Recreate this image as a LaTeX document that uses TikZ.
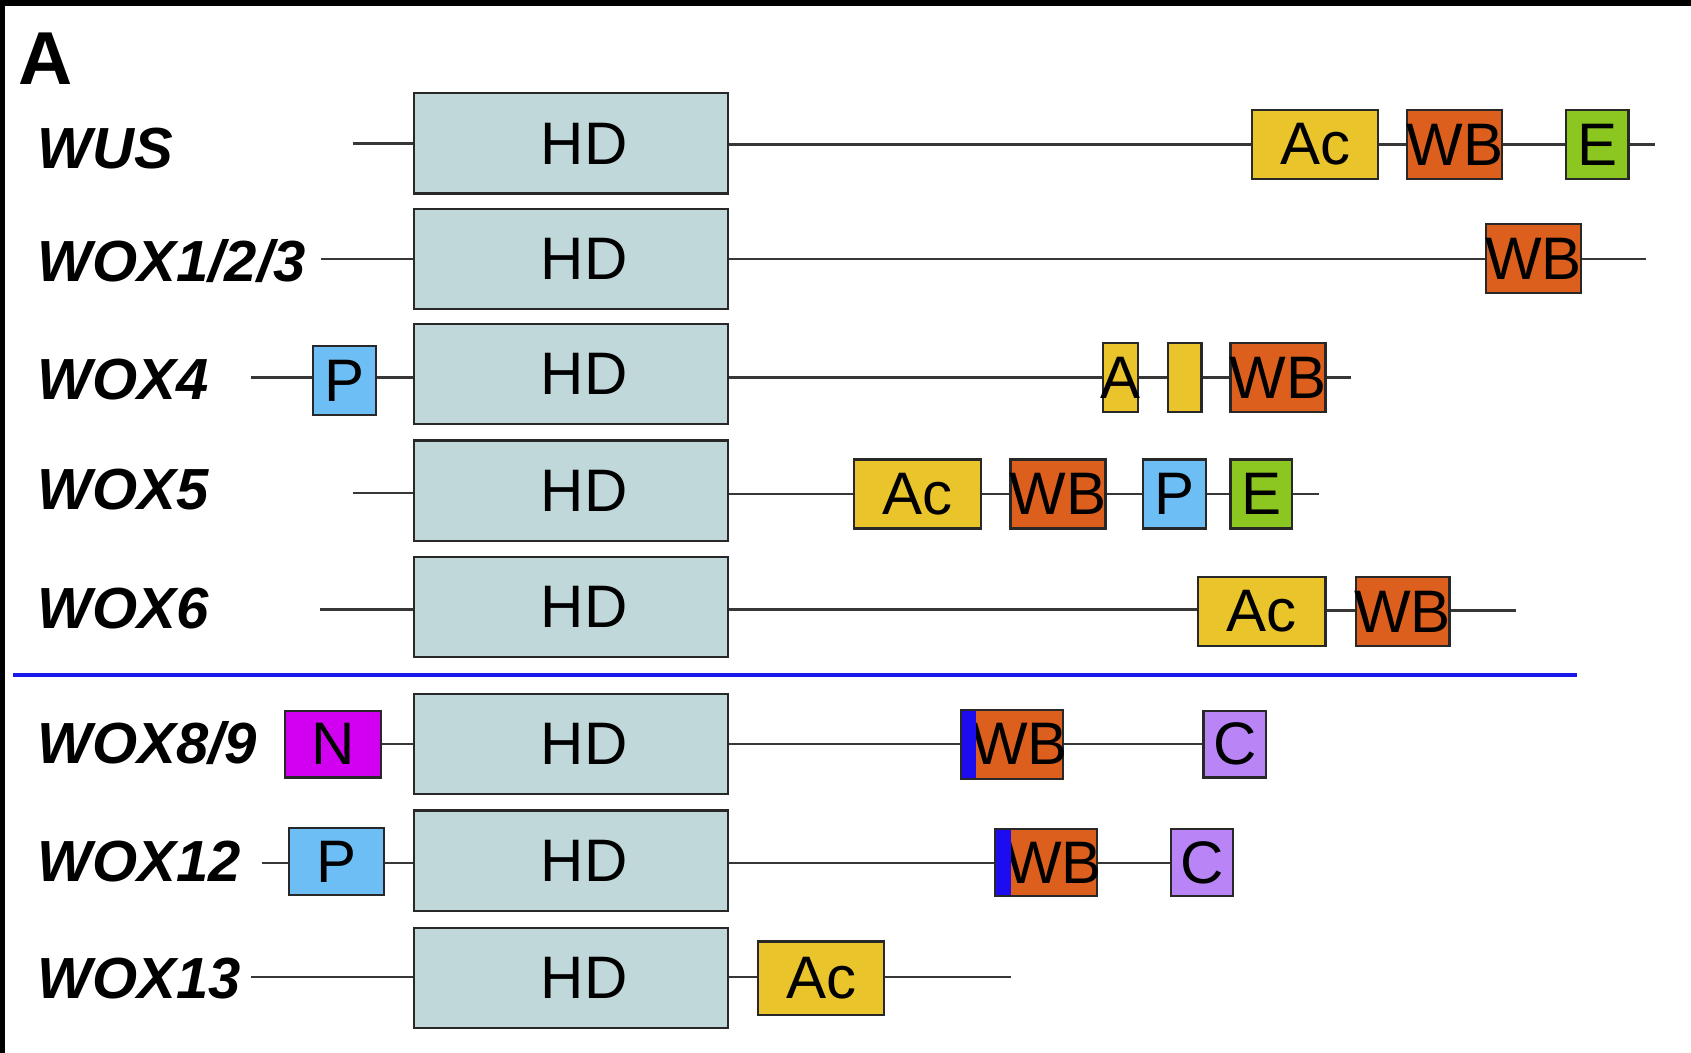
\documentclass[tikz,border=0pt]{standalone}
\usepackage{fontspec}
\setmainfont{Liberation Sans}
\usetikzlibrary{fit}
\definecolor{hdfill}{RGB}{192,216,218}
\definecolor{acc}{RGB}{233,196,42}
\definecolor{wbc}{RGB}{220,95,30}
\definecolor{ec}{RGB}{140,198,32}
\definecolor{pc}{RGB}{108,190,245}
\definecolor{nc}{RGB}{210,0,240}
\definecolor{cc}{RGB}{185,132,245}
\definecolor{stripc}{RGB}{30,12,240}
\definecolor{sepc}{RGB}{25,25,235}
\definecolor{boxline}{RGB}{40,40,40}
\definecolor{linec}{RGB}{55,55,55}
\newcommand\dbox[8][0]{\node[dom,fill=#3,fit={(#4,#6-#7/2)(#5,#6+#7/2)},label={[boxtxt,xshift=#1pt]center:#8}] (#2) {};}
\begin{document}
\begin{tikzpicture}[x=1.0784pt,y=-1.0784pt,
  dom/.style={draw=boxline,line width=2.2pt,inner sep=0pt},
  boxtxt/.style={inner sep=0pt,font=\fontsize{60}{62}\selectfont},
  conn/.style={draw=linec,line width=2.4pt},
  lbl/.style={anchor=base west,inner sep=0pt,font=\bfseries\itshape\fontsize{58}{60}\selectfont},
  stripbox/.style={fill=stripc,draw=none,inner sep=0pt}]
\useasboundingbox (0,0) rectangle (1568,976);
\fill[white] (0,0) rectangle (1568,976);
\fill[black] (0,0) rectangle (1568,5.5);
\fill[black] (0,0) rectangle (4.5,976);
\node[anchor=base west,inner sep=0pt,font=\bfseries\fontsize{75}{75}\selectfont] (panelA) at (17,78) {A};
% labels
\node[lbl] (l1) at (35,156) {WUS};
\node[lbl] (l2) at (35,261) {WOX1/2/3};
\node[lbl] (l3) at (35,370) {WOX4};
\node[lbl] (l4) at (35,472) {WOX5};
\node[lbl] (l5) at (35,583) {WOX6};
\node[lbl] (l6) at (35,708) {WOX8/9};
\node[lbl] (l7) at (35,817) {WOX12};
\node[lbl] (l8) at (35,926) {WOX13};
% separator
\draw[sepc,line width=3.5pt] (12,626) -- (1462,626);
% row 1 WUS
\coordinate (s1) at (327,133);
\dbox[13]{hd1}{hdfill}{384}{675}{133}{93}{HD}
\dbox{ac1}{acc}{1161}{1278}{134}{64}{Ac}
\dbox{wb1}{wbc}{1305}{1393}{134}{64}{WB}
\dbox{e1}{ec}{1452}{1510}{134}{64}{E}
\coordinate (t1) at (1535,134);
\draw[conn] (s1) -- (s1 -| hd1.west) (hd1.east |- t1) -- (t1 -| ac1.west) (ac1) -- (wb1) (wb1) -- (e1) (e1) -- (t1);
% row 2 WOX1/2/3
\coordinate (s2) at (298,240);
\dbox[13]{hd2}{hdfill}{384}{675}{240}{93}{HD}
\dbox{wb2}{wbc}{1378}{1466}{240}{64}{WB}
\coordinate (t2) at (1526,240);
\draw[conn] (s2) -- (hd2) (hd2) -- (wb2) (wb2) -- (t2);
% row 3 WOX4
\coordinate (s3) at (233,350);
\dbox{p3}{pc}{290}{349}{353}{64}{P}
\dbox[13]{hd3}{hdfill}{384}{675}{347}{93}{HD}
\dbox{a3}{acc}{1023}{1055}{350}{64}{A}
\dbox{y3}{acc}{1083}{1114}{350}{64}{}
\dbox{wb3}{wbc}{1141}{1229}{350}{64}{WB}
\coordinate (t3) at (1253,350);
\draw[conn] (s3) -- (s3 -| p3.west) (p3.east |- s3) -- (s3 -| hd3.west) (hd3.east |- a3) -- (a3) (a3) -- (y3) (y3) -- (wb3) (wb3) -- (t3);
% row 4 WOX5
\coordinate (s4) at (327,457);
\dbox[13]{hd4}{hdfill}{384}{675}{455}{93}{HD}
\dbox{ac4}{acc}{792}{910}{458}{64}{Ac}
\dbox{wb4}{wbc}{937}{1025}{458}{64}{WB}
\dbox{p4}{pc}{1060}{1118}{458}{64}{P}
\dbox{e4}{ec}{1141}{1198}{458}{64}{E}
\coordinate (t4) at (1223,458);
\draw[conn] (s4) -- (s4 -| hd4.west) (hd4.east |- ac4) -- (ac4) (ac4) -- (wb4) (wb4) -- (p4) (p4) -- (e4) (e4) -- (t4);
% row 5 WOX6
\coordinate (s5) at (297,565);
\dbox[13]{hd5}{hdfill}{384}{675}{563}{93}{HD}
\dbox{ac5}{acc}{1111}{1229}{567}{64}{Ac}
\dbox{wb5}{wbc}{1257}{1344}{567}{64}{WB}
\coordinate (t5) at (1406,566);
\draw[conn] (s5) -- (s5 -| hd5.west) (hd5.east |- s5) -- (s5 -| ac5.west) (ac5.east |- t5) -- (t5 -| wb5.west) (wb5.east |- t5) -- (t5);
% row 6 WOX8/9
\dbox{n6}{nc}{264}{353}{690}{62}{N}
\dbox[13]{hd6}{hdfill}{384}{675}{690}{93}{HD}
\dbox[7.5]{wb6}{wbc}{891}{986}{690}{64}{WB}
\node[stripbox,fit={(892,659)(905,721)}] (bs6) {};
\dbox{c6}{cc}{1116}{1174}{690}{62}{C}
\draw[conn] (n6) -- (hd6) (hd6) -- (wb6) (wb6) -- (c6);
% row 7 WOX12
\coordinate (s7) at (243,800);
\dbox{p7}{pc}{268}{356}{799}{62}{P}
\dbox[13]{hd7}{hdfill}{384}{675}{798}{93}{HD}
\dbox[7.5]{wb7}{wbc}{923}{1017}{800}{62}{WB}
\node[stripbox,fit={(924,770)(937,830)}] (bs7) {};
\dbox{c7}{cc}{1086}{1143}{800}{62}{C}
\draw[conn] (s7) -- (s7 -| p7.west) (p7.east |- s7) -- (s7 -| hd7.west) (hd7.east |- wb7) -- (wb7) (wb7) -- (c7);
% row 8 WOX13
\coordinate (s8) at (233,906);
\dbox[13]{hd8}{hdfill}{384}{675}{907}{93}{HD}
\dbox{ac8}{acc}{703}{820}{907}{68}{Ac}
\coordinate (t8) at (937,906);
\draw[conn] (s8) -- (s8 -| hd8.west) (hd8.east |- s8) -- (s8 -| ac8.west) (ac8.east |- t8) -- (t8);
\end{tikzpicture}
\end{document}
